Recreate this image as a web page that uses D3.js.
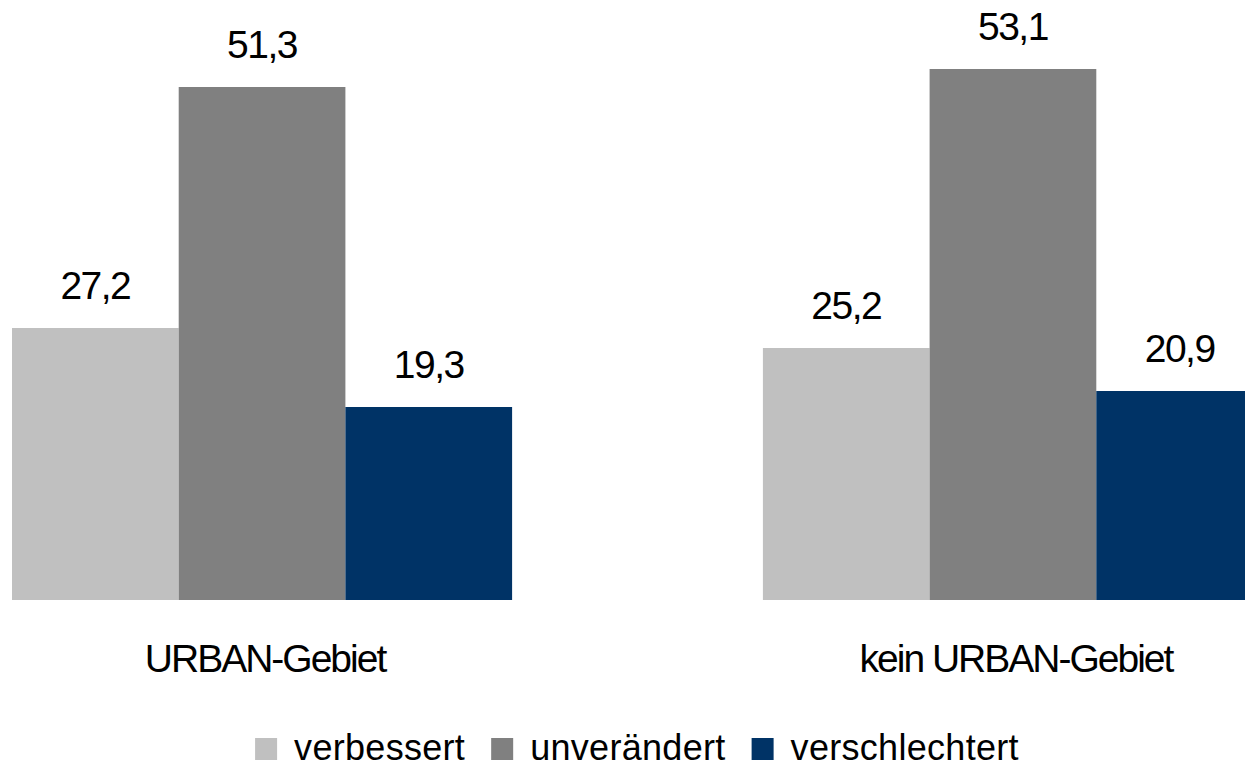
<!DOCTYPE html>
<html>
<head>
<meta charset="utf-8">
<script src="https://cdn.jsdelivr.net/npm/d3@7"></script>
<style>
  body { margin: 0; background: #fff; }
  svg text { font-family: "Liberation Sans", Arial, sans-serif; fill: #000; }
</style>
</head>
<body>
<div id="display"></div>
<script>
// chart data
var categories = ["URBAN-Gebiet", "kein URBAN-Gebiet"];
var series = ["verbessert", "unverändert", "verschlechtert"];
var verbessert = [27.2, 25.2];
var unveraendert = [51.3, 53.1];
var verschlechtert = [19.3, 20.9];
var colors = ["#c0c0c0", "#808080", "#003366"];

var width = 1245, height = 767;

var svg = d3.select("#display")
  .append("svg")
    .attr("width", width)
    .attr("height", height);

var rows = [];
categories.forEach(function(c, i) {
  rows.push({cat: c, s: series[0], v: verbessert[i]});
  rows.push({cat: c, s: series[1], v: unveraendert[i]});
  rows.push({cat: c, s: series[2], v: verschlechtert[i]});
});

// group scale, bar scale, value scale
var x0 = d3.scaleBand()
    .domain(categories)
    .range([12, 1263])
    .paddingInner(0.334)
    .paddingOuter(0);

var x1 = d3.scaleBand()
    .domain(series)
    .range([0, x0.bandwidth()]);

var y = d3.scaleLinear()
    .domain([0, 60])
    .range([600, 0]);

var color = d3.scaleOrdinal().domain(series).range(colors);

svg.selectAll("rect.bar")
  .data(rows)
  .enter()
  .append("rect")
    .attr("class", "bar")
    .attr("x", function(d) { return x0(d.cat) + x1(d.s); })
    .attr("y", function(d) { return y(d.v); })
    .attr("width", x1.bandwidth())
    .attr("height", function(d) { return y(0) - y(d.v); })
    .attr("fill", function(d) { return color(d.s); });

var fmt = function(v) { return d3.format(".1f")(v).replace(".", ","); };

svg.selectAll("text.val")
  .data(rows)
  .enter()
  .append("text")
    .attr("class", "val")
    .attr("x", function(d) { return x0(d.cat) + x1(d.s) + x1.bandwidth() / 2; })
    .attr("y", function(d) { return y(d.v) - 29; })
    .attr("text-anchor", "middle")
    .style("font-size", "39px")
    .style("letter-spacing", "-1.5px")
    .text(function(d) { return fmt(d.v); });

// category labels
svg.selectAll("text.cat")
  .data(categories)
  .enter()
  .append("text")
    .attr("class", "cat")
    .attr("x", function(d) { return x0(d) + x0.bandwidth() / 2 + 3; })
    .attr("y", 672)
    .attr("text-anchor", "middle")
    .style("font-size", "39px")
    .style("letter-spacing", "-2px")
    .text(function(d) { return d; });

// legend
var legend = svg.append("g");
var lx = 0;
series.forEach(function(s, i) {
  var g = legend.append("g").attr("transform", "translate(" + lx + ",0)");
  g.append("rect")
    .attr("x", 0).attr("y", 738)
    .attr("width", 22).attr("height", 22)
    .attr("fill", color(s));
  var t = g.append("text")
    .attr("x", 39).attr("y", 760)
    .style("font-size", "36px")
    .style("letter-spacing", "0.3px")
    .text(s);
  lx += 39 + t.node().getComputedTextLength() + 26;
});
var total = lx - 26;
legend.attr("transform", "translate(" + (637 - total / 2) + ",0)");
</script>
</body>
</html>
